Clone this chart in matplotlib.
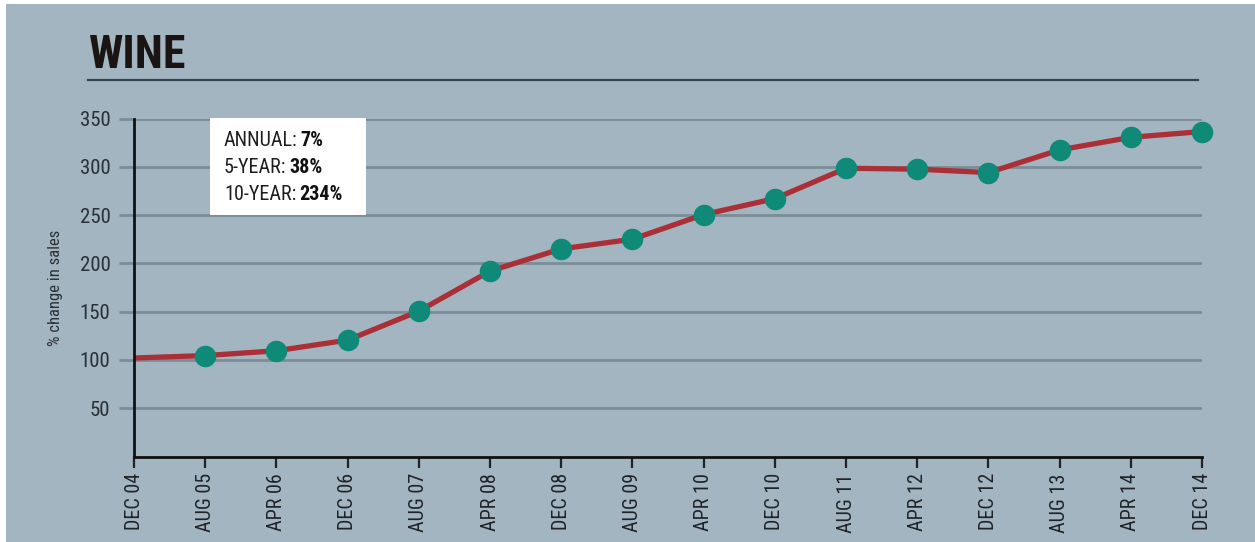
import matplotlib
matplotlib.use("Agg")
import matplotlib.pyplot as plt
from matplotlib import font_manager
from matplotlib.patches import Rectangle

# ---- data -------------------------------------------------------------
periods = ["DEC 04", "AUG 05", "APR 06", "DEC 06", "AUG 07", "APR 08",
           "DEC 08", "AUG 09", "APR 10", "DEC 10", "AUG 11", "APR 12",
           "DEC 12", "AUG 13", "APR 14", "DEC 14"]
sales_change = [102, 104.5, 109.5, 120.5, 150.5, 192, 215, 225, 250.5,
                267, 298.5, 297.5, 294, 317.5, 330.5, 336.5]
y_ticks = [50, 100, 150, 200, 250, 300, 350]
stat_labels = ["ANNUAL:", "5-YEAR:", "10-YEAR:"]
stat_values = ["7%", "38%", "234%"]

# ---- style ------------------------------------------------------------
installed = {f.name for f in font_manager.fontManager.ttflist}
narrow_pref = ["Liberation Sans Narrow", "DejaVu Sans Condensed",
               "Roboto Condensed", "Open Sans Condensed", "Roboto", "DejaVu Sans"]
families = [f for f in narrow_pref if f in installed] or ["DejaVu Sans"]
plt.rcParams["font.family"] = families

BG = "#a3b5c1"
GRID = "#7b8d97"
LINE = "#ab2f37"
DOT = "#0f8a78"
INK = "#1f2326"

W, H, DPI = 1255, 542, 100
fig = plt.figure(figsize=(W / DPI, H / DPI), dpi=DPI, facecolor="white")

# panel background
fig.patches.append(Rectangle((6 / W, 0), 1 - 6 / W, 1 - 4 / H,
                             transform=fig.transFigure, facecolor=BG,
                             edgecolor="none", zorder=-10))

left, right, top, bottom = 134, 1202, 118.5, 456.5
ax = fig.add_axes([left / W, 1 - bottom / H, (right - left) / W, (bottom - top) / H])
ax.set_facecolor("none")
ax.set_zorder(1)

x = list(range(len(periods)))
ax.plot(x, sales_change, color=LINE, lw=3.8, solid_capstyle="butt",
        zorder=3, clip_on=False)
ax.plot(x[1:], sales_change[1:], ls="none", marker="o", ms=14.5,
        mfc=DOT, mec=DOT, zorder=4, clip_on=False)

ax.set_xlim(0, len(periods) - 1)
ax.set_ylim(0, 350)
ax.set_xticks(x)
ax.set_xticklabels(periods, rotation=90, fontsize=14.5, color=INK)
ax.set_yticks(y_ticks)
ax.set_yticklabels([str(v) for v in y_ticks], fontsize=15, color="#2a3034")

ax.grid(axis="y", color=GRID, lw=2, zorder=1)
ax.tick_params(axis="y", color=GRID, width=2, length=11, pad=6)
ax.tick_params(axis="x", color=INK, width=1.6, length=8, pad=4)
for s in ("top", "right"):
    ax.spines[s].set_visible(False)
for s in ("left", "bottom"):
    ax.spines[s].set_color("#111111")
    ax.spines[s].set_linewidth(2)
    ax.spines[s].set_zorder(5)

ax.set_ylabel("% change in sales", fontsize=12, color="#2a3034", labelpad=12)

# title and rule
fig.text(89 / W, 1 - 68 / H, "WINE", fontsize=33, fontweight="bold",
         color="#1a1512", ha="left", va="baseline")
fig.add_artist(plt.Line2D([88 / W, 1198 / W], [1 - 80 / H, 1 - 80 / H],
                          transform=fig.transFigure, color="#33444d", lw=1.6))

# stats box
box_ax = fig.add_axes([0, 0, 1, 1], facecolor="none")
box_ax.set_axis_off()
box_ax.set_zorder(6)
box_ax.set_xlim(0, W)
box_ax.set_ylim(H, 0)
box_ax.add_patch(Rectangle((210, 118), 156, 97, facecolor="white",
                           edgecolor="none"))
fig.canvas.draw()
renderer = fig.canvas.get_renderer()
for i, (lab, val) in enumerate(zip(stat_labels, stat_values)):
    ybase = 146 + 27 * i
    t = box_ax.text(224, ybase, lab, fontsize=14.5, color="#1d1d1d",
                    ha="left", va="baseline")
    bb = t.get_window_extent(renderer)
    box_ax.text(bb.x1 + 3, ybase, val, fontsize=14.5, fontweight="bold",
                color="#111111", ha="left", va="baseline")

fig.savefig("out.png", dpi=DPI, facecolor="white")
